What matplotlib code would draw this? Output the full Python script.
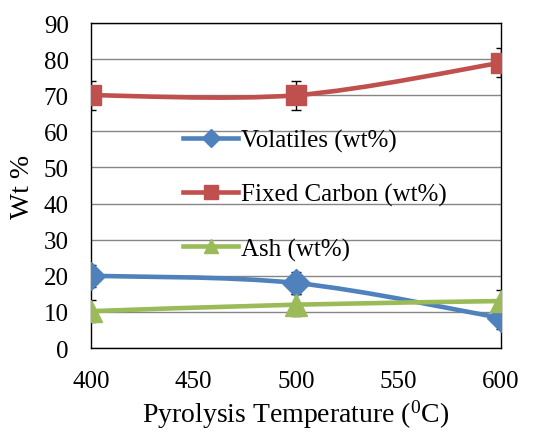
import numpy as np
import matplotlib
matplotlib.use("Agg")
import matplotlib.pyplot as plt
from matplotlib.path import Path
from matplotlib.patches import PathPatch
from matplotlib.lines import Line2D

plt.rcParams['font.family'] = ['Liberation Serif', 'DejaVu Serif']

temps = [400, 500, 600]
volatiles = [20, 18, 8.3]
fixed_carbon = [70, 70, 79]
ash = [10.2, 12, 13]
vol_err = [3, 3, 3]
fc_err = [4, 4, 4]
ash_err = [3, 3, 3]

labels = ['Volatiles (wt%)', 'Fixed Carbon (wt%)', 'Ash (wt%)']
colors = ['#4F81BD', '#C0504D', '#9BBB59']
markers = ['D', 's', '^']
msizes = [14, 15, 16]


def smooth_path(x, y):
    # Excel-like smoothed line: Catmull-Rom through the points as cubic Beziers
    p = np.column_stack([x, y]).astype(float)
    n = len(p)
    verts = [p[0]]
    codes = [Path.MOVETO]
    for i in range(n - 1):
        prev = p[i - 1] if i > 0 else p[i]
        nxt = p[i + 2] if i + 2 < n else p[i + 1]
        c1 = p[i] + (p[i + 1] - prev) / 6
        c2 = p[i + 1] - (nxt - p[i]) / 6
        verts += [c1, c2, p[i + 1]]
        codes += [Path.CURVE4] * 3
    return Path(verts, codes)


fig = plt.figure(figsize=(5.47, 4.35), dpi=100)
ax = fig.add_axes([0.1664, 0.1977, 0.7495, 0.7471])

series = [volatiles, fixed_carbon, ash]
errs = [vol_err, fc_err, ash_err]
for ys, es, c in zip(series, errs, colors):
    ax.errorbar(temps, ys, yerr=es, fmt='none', ecolor='black',
                elinewidth=1, capsize=3.5, capthick=1, zorder=3)
for ys, c in zip(series, colors):
    ax.add_patch(PathPatch(smooth_path(temps, ys), facecolor='none',
                           edgecolor=c, lw=3.3, zorder=4))
for ys, c, m, s in zip(series, colors, markers, msizes):
    ax.plot(temps, ys, linestyle='none', marker=m, color=c,
            markersize=s, zorder=5)

ax.set_xlim(400, 600)
ax.set_ylim(0, 90)
ax.set_xticks(np.arange(400, 601, 50))
ax.set_yticks(np.arange(0, 91, 10))
ax.yaxis.grid(True, color='#868686', lw=1)
ax.set_axisbelow(True)
ax.tick_params(length=0, labelsize=18)
ax.tick_params(axis='y', pad=16)
ax.tick_params(axis='x', pad=16)
for sp in ax.spines.values():
    sp.set_color('black')
    sp.set_linewidth(1)

ax.set_xlabel('Pyrolysis Temperature ($\\mathregular{^{0}}$C)', fontsize=20, labelpad=4)
ax.set_ylabel('Wt %', fontsize=20, labelpad=6)

handles = [Line2D([], [], color=c, lw=3.3, marker=m, markersize=s * 0.65)
           for c, m, s in zip(colors, markers, msizes)]
ax.legend(handles, labels, loc='upper left', bbox_to_anchor=(0.2, 0.705),
          frameon=False, fontsize=18, labelspacing=1.25, handlelength=2.2,
          handletextpad=0.1, borderaxespad=0)

fig.savefig('out.png', dpi=100)
